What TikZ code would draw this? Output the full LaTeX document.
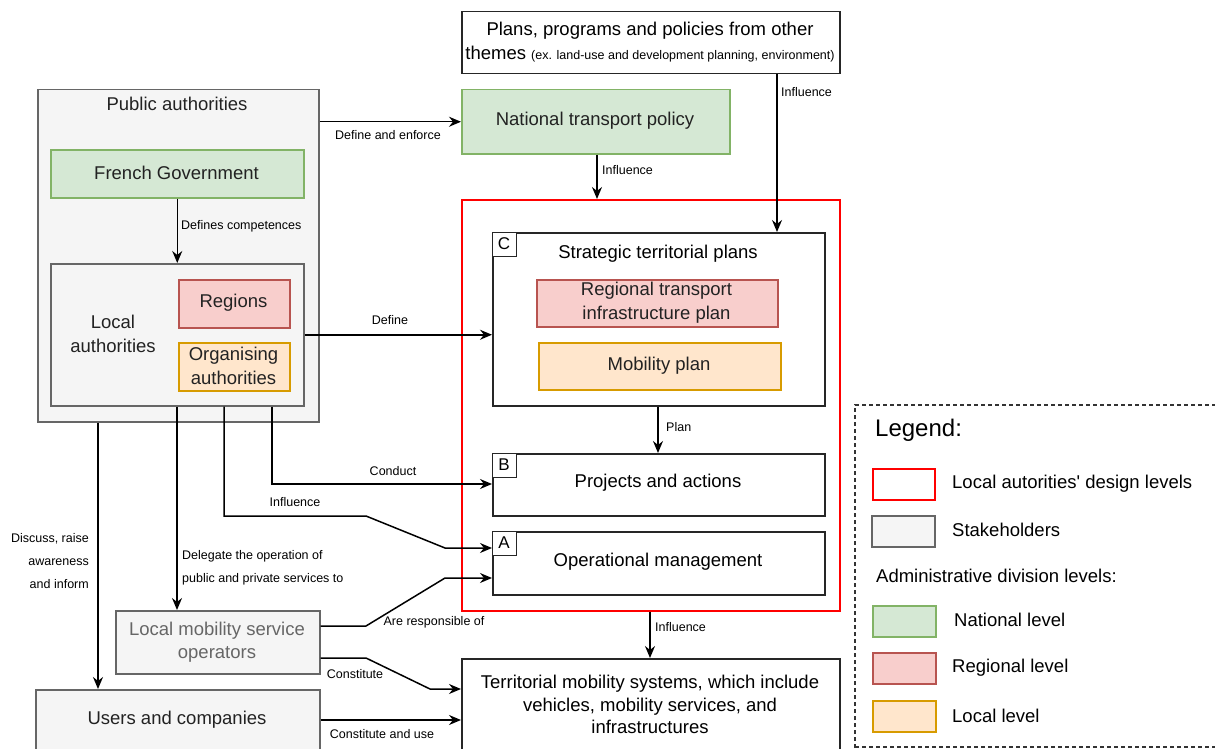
\documentclass[tikz,border=0pt]{standalone}
\usepackage{fontspec}
\setmainfont{Liberation Sans}
\usetikzlibrary{arrows.meta}
\newcommand{\sqquote}{\XeTeXglyph\XeTeXglyphindex "quotesingle"\relax}
\definecolor{gfill}{HTML}{F5F5F5}
\definecolor{gline}{HTML}{666666}
\definecolor{gtext}{HTML}{222222}
\definecolor{nfill}{HTML}{D5E8D4}
\definecolor{nline}{HTML}{82B366}
\definecolor{rfill}{HTML}{F8CECC}
\definecolor{rline}{HTML}{B85450}
\definecolor{lfill}{HTML}{FFE6CC}
\definecolor{lline}{HTML}{D79B00}
\definecolor{redline}{HTML}{FF0000}
\tikzset{
  base/.style={line width=1.5pt, anchor=north west, inner sep=0pt},
  gbox/.style={base, fill=gfill, draw=gline},
  natbox/.style={base, fill=nfill, draw=nline},
  regbox/.style={base, fill=rfill, draw=rline},
  locbox/.style={base, fill=lfill, draw=lline},
  wbox/.style={base, fill=white, draw=black!85},
  sq/.style={base, draw=black!85, fill=white, minimum width=24pt, minimum height=24pt, line width=1.3pt},
  big/.style={font=\fontsize{18.5}{23.5}\selectfont, inner sep=0pt, align=center},
  lbl/.style={font=\fontsize{12.5}{23}\selectfont, inner sep=0pt},
  arr/.style={line width=1.5pt, -{Stealth[length=12pt,width=10pt,inset=4pt]}},
}
\begin{document}
\begin{tikzpicture}[x=1pt,y=-1pt]
\useasboundingbox (0,0) rectangle (1215,749);
% top plans box
\node[wbox, minimum width=378pt, minimum height=62pt] (plans) at (461,11) {};
\node[big] (plansA) at (650,31) {Plans, programs and policies from other};
\node[big] (plansB) at (650,54) {themes {\fontsize{12.5}{14}\selectfont (ex. land-use and development planning, environment)}};
% public authorities
\node[gbox, minimum width=281pt, minimum height=332pt] (pa) at (37,89) {};
\node[big, text=gtext] (patitle) at (177,104) {Public authorities};
\node[natbox, minimum width=253pt, minimum height=48pt] (fg) at (50,149) {};
\node[big, text=gtext] (fgt) at (176.5,173) {French Government};
\node[gbox, minimum width=253pt, minimum height=142pt] (la) at (50,263) {};
\node[big, text=gtext] (lat) at (113,334) {Local\\authorities};
\node[regbox, minimum width=111pt, minimum height=48pt] (reg) at (178,279) {};
\node[big, text=gtext] (regt) at (233.5,303) {Regions};
\node[locbox, minimum width=111pt, minimum height=48pt] (org) at (178,342) {};
\node[big, text=gtext] (orgt) at (233.5,366) {Organising\\authorities};
% national transport policy
\node[natbox, minimum width=268pt, minimum height=64pt] (ntp) at (461,89) {};
\node[big, text=gtext] (ntpt) at (595,121) {National transport policy};
% red design levels box
\node[base, draw=redline, minimum width=378pt, minimum height=411pt] (red) at (461,199) {};
% C
\node[wbox, minimum width=332pt, minimum height=173pt] (c) at (492,232) {};
\node[sq] (csq) at (492,232) {};
\node[big, font=\fontsize{17}{20}\selectfont] (cl) at (504,244) {C};
\node[big] (ct) at (658,254) {Strategic territorial plans};
\node[regbox, minimum width=241pt, minimum height=47pt] (rtip) at (536,279) {};
\node[big, text=gtext] (rtipt) at (656.5,302.5) {Regional transport\\infrastructure plan};
\node[locbox, minimum width=242pt, minimum height=47pt] (mp) at (538,342) {};
\node[big, text=gtext] (mpt) at (659,365.5) {Mobility plan};
% B
\node[wbox, minimum width=332pt, minimum height=62pt] (b) at (492,453) {};
\node[sq] (bsq) at (492,453) {};
\node[big, font=\fontsize{17}{20}\selectfont] (bl) at (504,465) {B};
\node[big] (bt) at (658,483) {Projects and actions};
% A
\node[wbox, minimum width=332pt, minimum height=63pt] (a) at (492,531) {};
\node[sq] (asq) at (492,531) {};
\node[big, font=\fontsize{17}{20}\selectfont] (al) at (504,543) {A};
\node[big] (at) at (658,562) {Operational management};
% local mobility service operators
\node[gbox, minimum width=204pt, minimum height=63pt] (lmso) at (115,610) {};
\node[big, text=black!60] (lmsot) at (217,642) {Local mobility service\\operators};
% users
\node[gbox, minimum width=284pt, minimum height=90pt] (users) at (35,689) {};
\node[big, text=gtext] (userst) at (177,720) {Users and companies};
% territorial
\node[wbox, minimum width=378pt, minimum height=100pt] (terr) at (461,658) {};
\node[big, font=\fontsize{18.5}{22.5}\selectfont] (terrt) at (650,704.5) {Territorial mobility systems, which include\\vehicles, mobility services, and\\infrastructures};
% legend
\draw[line width=1.2pt, dash pattern=on 4pt off 3pt, black!80] (855,748) -- (855,405) -- (1225,405);
\draw[line width=1.2pt, dash pattern=on 4pt off 3pt, black!80] (855,747) -- (1225,747);
\node[inner sep=0pt, anchor=west, font=\fontsize{24}{28}\selectfont] (leg) at (875,430) {Legend:};
\node[base, draw=redline, fill=white, minimum width=62pt, minimum height=31pt] (lg1) at (872,468) {};
\node[big, anchor=west] (lg1t) at (952,484) {Local autorities\sqquote{} design levels};
\node[gbox, minimum width=63pt, minimum height=31pt] (lg2) at (871,515) {};
\node[big, anchor=west] (lg2t) at (952,530) {Stakeholders};
\node[big, anchor=west] (lg3t) at (876,576) {Administrative division levels:};
\node[natbox, minimum width=63pt, minimum height=31pt] (lg4) at (872,605) {};
\node[big, anchor=west] (lg4t) at (954,620) {National level};
\node[regbox, minimum width=63pt, minimum height=31pt] (lg5) at (872,652) {};
\node[big, anchor=west] (lg5t) at (952,668) {Regional level};
\node[locbox, minimum width=63pt, minimum height=31pt] (lg6) at (872,700) {};
\node[big, anchor=west] (lg6t) at (952,716) {Local level};
% connectors
\draw[arr] (pa.east |- ntp.west) -- (ntp.west);
\node[lbl] (l1) at (388,135) {Define and enforce};
\draw[arr] (fg.south) -- (la.north);
\node[lbl, anchor=west] (l2) at (181,226) {Defines competences};
\draw[arr] (ntp.south -| 597,0) -- (red.north -| 597,0);
\node[lbl, anchor=west] (l3) at (602,170) {Influence};
\draw[arr] (plans.south -| 777,0) -- (c.north -| 777,0);
\node[lbl, anchor=west] (l4) at (781,92) {Influence};
\draw[arr] (la.east) -- (la.east -| c.west);
\node[lbl] (l5) at (390,320) {Define};
\draw[arr] (c.south -| 658,0) -- (b.north -| 658,0);
\node[lbl, anchor=west] (l6) at (666,427) {Plan};
\draw[arr] (la.south -| 272,0) -- (272,484) -- (b.west |- 0,484);
\node[lbl] (l7) at (393,471) {Conduct};
\draw[arr] (la.south -| 224,0) -- (224,516) -- (366,516) -- (445,548) -- (a.west |- 0,548);
\node[lbl] (l8) at (295,502) {Influence};
\draw[arr] (la.south -| 177,0) -- (lmso.north -| 177,0);
\node[lbl, anchor=west, align=left] (l9) at (182,568) {Delegate the operation of\\public and private services to};
\draw[arr] (pa.south -| 98,0) -- (users.north -| 98,0);
\node[lbl, anchor=east, align=right] (l10) at (89,561.5) {Discuss, raise\\awareness\\and inform};
\draw[arr] (lmso.east |- 0,626) -- (366,626) -- (445,578) -- (a.west |- 0,578);
\node[lbl] (l11) at (434,622) {Are responsible of};
\draw[arr] (lmso.east |- 0,658) -- (366,658) -- (430,689) -- (terr.west |- 0,689);
\node[lbl] (l12) at (355,674) {Constitute};
\draw[arr] (users.east |- 0,720) -- (terr.west |- 0,720);
\node[lbl] (l13) at (382,734) {Constitute and use};
\draw[arr] (red.south -| 650,0) -- (terr.north -| 650,0);
\node[lbl, anchor=west] (l14) at (655,627) {Influence};
\end{tikzpicture}
\end{document}
